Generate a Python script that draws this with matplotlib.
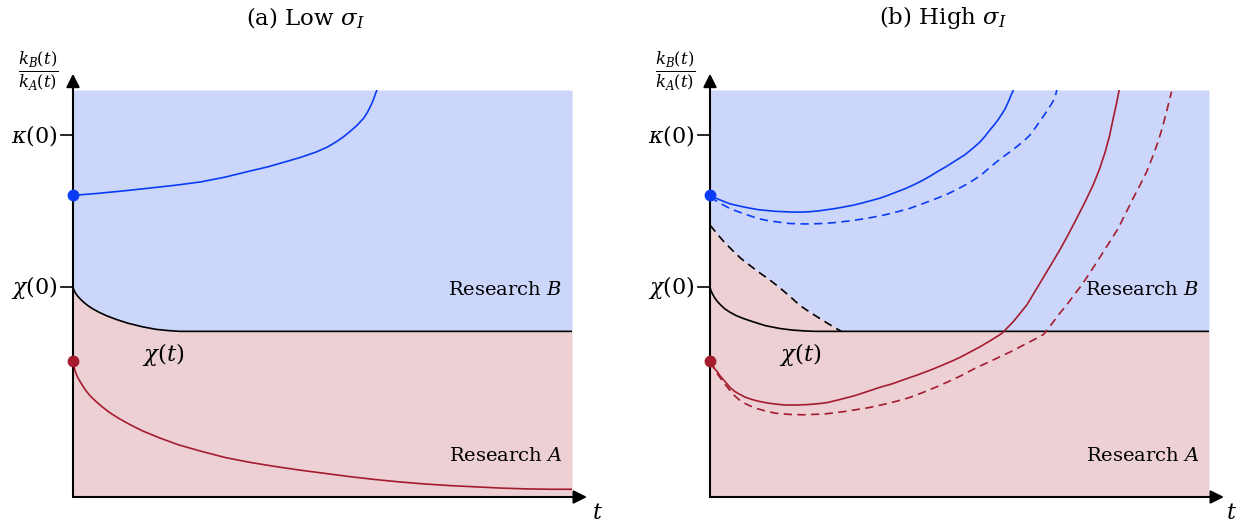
import matplotlib
matplotlib.use('Agg')
import matplotlib.pyplot as plt

plt.rcParams['font.family'] = 'DejaVu Serif'
plt.rcParams['mathtext.fontset'] = 'dejavuserif'

# colours
BLUE_FILL = '#ccd6fb'
RED_FILL = '#ecd0d4'
BLUE = '#0b3cf5'
RED = '#a51c2e'

# levels on the vertical axis (scaled so the shaded box is [0, 1])
KAPPA0 = 0.889
CHI0 = 0.515
CHI_BAR = 0.407
BLUE_START = 0.741
RED_START = 0.333

# --- panel (a): low sigma_I ---
chi_a_t = [0, .002, .005, .009, .015, .022, .030, .040, .052, .066, .085, .110, .140, .166, .190, .214, 1.0]
chi_a_y = [.515, .508, .501, .494, .486, .478, .470, .462, .454, .446, .437, .427, .418, .412, .409, .407, .407]

blue_a_t = [0, .05, .10, .154, .205, .255, .305, .355, .39, .421, .455, .488, .51, .528, .542, .555, .569, .582,
            .590, .597, .602, .606, .609]
blue_a_y = [.741, .746, .752, .759, .766, .774, .786, .801, .811, .822, .834, .848, .860, .873, .885, .898, .913, .930,
            .945, .962, .976, .990, 1.0]

red_a_t = [0, .002, .005, .009, .014, .020, .026, .034, .044, .058, .074, .092, .114, .140, .174, .212, .255, .305,
           .355, .405, .455, .505, .555, .605, .655, .705, .756, .806, .856, .906, .956, 1.0]
red_a_y = [.333, .320, .307, .295, .284, .272, .261, .249, .237, .222, .207, .193, .178, .162, .145, .128, .113, .097,
           .085, .075, .066, .058, .050, .043, .037, .032, .028, .025, .022, .020, .019, .019]

# --- panel (b): high sigma_I ---
chi_b_t = [0, .002, .005, .009, .015, .022, .030, .040, .052, .066, .085, .111, .140, .166, .190, .211, 1.0]
chi_b_y = [.515, .507, .499, .490, .480, .471, .462, .454, .446, .439, .431, .421, .414, .410, .408, .407, .407]

# dashed threshold, which is the edge between the shaded regions
chi_hi_t = [0, .014, .028, .045, .062, .080, .097, .118, .138, .160, .180, .200, .221, .242, .263]
chi_hi_y = [.668, .647, .627, .606, .586, .569, .553, .535, .516, .493, .471, .454, .438, .422, .407]

blue_b_t = [0, .010, .020, .030, .041, .055, .070, .083, .097, .113, .130, .148, .166, .183, .200, .218, .235, .252,
            .270, .287, .304, .322, .340, .356, .373, .392, .410, .426, .442, .458, .475, .493, .511, .526, .540, .551,
            .561, .570, .578, .585, .591, .596, .600, .604, .608]
blue_b_y = [.741, .735, .730, .725, .720, .716, .712, .709, .706, .704, .702, .701, .700, .700, .701, .703, .706, .709,
            .713, .717, .722, .728, .734, .741, .749, .758, .768, .778, .789, .801, .813, .827, .841, .856, .871, .886,
            .902, .915, .928, .941, .953, .966, .977, .989, 1.0]

blue_b_dash_t = [0, .020, .041, .070, .097, .120, .140, .160, .180, .203, .225, .248, .270, .295, .320, .346, .373,
                 .400, .425, .451, .477, .497, .515, .531, .546, .561, .581, .600, .615, .628, .641, .653, .665, .675,
                 .684, .691, .695]
blue_b_dash_y = [.737, .722, .708, .695, .684, .678, .675, .672, .671, .671, .672, .674, .677, .681, .686, .692, .700,
                 .709, .720, .732, .745, .757, .769, .781, .794, .810, .830, .847, .861, .874, .889, .909, .930, .948,
                 .965, .980, 1.0]

red_b_t = [0, .003, .007, .010, .014, .020, .027, .034, .041, .050, .060, .071, .083, .098, .115, .133, .152, .173,
           .195, .215, .235, .262, .290, .315, .339, .365, .390, .416, .442, .464, .485, .501, .521, .541, .563, .585,
           .608, .635, .661, .685, .701, .718, .735, .752, .768, .781, .792, .801, .808, .814, .820]
red_b_y = [.333, .326, .320, .314, .309, .298, .288, .278, .268, .259, .252, .245, .240, .235, .231, .228, .226, .226,
           .227, .229, .232, .240, .249, .259, .269, .278, .289, .300, .312, .323, .334, .343, .356, .369, .385, .402,
           .431, .472, .525, .574, .607, .645, .685, .726, .767, .807, .848, .889, .930, .963, 1.0]

red_b_dash_t = [0, .005, .010, .015, .021, .030, .040, .050, .062, .078, .095, .112, .131, .158, .187, .208, .230, .250,
                .270, .295, .320, .346, .373, .399, .425, .451, .477, .503, .531, .568, .601, .631, .650, .668, .678,
                .698, .715, .730, .745, .764, .782, .800, .818, .833, .848, .862, .875, .887, .898, .907, .915, .920,
                .925]
red_b_dash_y = [.333, .322, .312, .302, .292, .277, .262, .248, .235, .225, .217, .211, .206, .203, .202, .203, .204,
                .207, .210, .215, .220, .227, .235, .244, .256, .269, .283, .298, .316, .337, .356, .375, .387, .399,
                .414, .447, .472, .497, .521, .556, .590, .625, .660, .697, .734, .767, .799, .836, .873, .910, .947,
                .972, .996]

fig = plt.figure(figsize=(12.44, 5.25), dpi=100)
W, H = 1244, 525
DASH = (0, (5, 3.2))


def make_axes(x0):
    # shaded box is 499 x 407 px, its top edge at 90 px from the top
    return fig.add_axes([x0 / W, (H - 497) / H, 499 / W, 407 / H])


def frame(ax, title, t_label_x):
    ax.set_xlim(0, 1)
    ax.set_ylim(0, 1)
    ax.axis('off')
    ax.annotate('', xy=(0, 1.04), xytext=(0, 0), annotation_clip=False,
                arrowprops=dict(arrowstyle='-|>', lw=1.5, color='black', mutation_scale=20,
                                shrinkA=0, shrinkB=0))
    ax.annotate('', xy=(1.03, 0), xytext=(0, 0), annotation_clip=False,
                arrowprops=dict(arrowstyle='-|>', lw=1.5, color='black', mutation_scale=20,
                                shrinkA=0, shrinkB=0))
    for lev, lab in [(KAPPA0, r'$\kappa(0)$'), (CHI0, r'$\chi(0)$')]:
        ax.plot([-0.024, 0], [lev, lev], color='black', lw=1.2, clip_on=False)
        ax.text(-0.031, lev, lab, ha='right', va='center', fontsize=16)
    ax.text(-0.07, 1.045, r'$\frac{k_B(t)}{k_A(t)}$', ha='center', va='center', fontsize=17)
    ax.text(t_label_x, -0.04, r'$t$', ha='center', va='center', fontsize=16)
    ax.text(0.466, 1.177, title, ha='center', va='center', fontsize=16.5)
    ax.text(0.98, 0.509, r'Research $B$', ha='right', va='center', fontsize=14)
    ax.text(0.98, 0.100, r'Research $A$', ha='right', va='center', fontsize=14)


# panel (a)
ax1 = make_axes(73)
ax1.fill_between(chi_a_t, chi_a_y, 1, color=BLUE_FILL, lw=0)
ax1.fill_between(chi_a_t, 0, chi_a_y, color=RED_FILL, lw=0)
ax1.plot(chi_a_t, chi_a_y, color='black', lw=1.2)
ax1.plot(blue_a_t, blue_a_y, color=BLUE, lw=1.2)
ax1.plot(red_a_t, red_a_y, color=RED, lw=1.2)
ax1.plot(0, BLUE_START, 'o', color=BLUE, ms=7.5, clip_on=False, zorder=5)
ax1.plot(0, RED_START, 'o', color=RED, ms=7.5, clip_on=False, zorder=5)
ax1.text(0.18, 0.350, r'$\chi(t)$', ha='center', va='center', fontsize=16.5)
frame(ax1, r'(a) Low $\sigma_I$', 1.052)

# panel (b)
edge_t = chi_hi_t + [1.0]
edge_y = chi_hi_y + [CHI_BAR]
ax2 = make_axes(710)
ax2.fill_between(edge_t, edge_y, 1, color=BLUE_FILL, lw=0)
ax2.fill_between(edge_t, 0, edge_y, color=RED_FILL, lw=0)
ax2.plot(chi_hi_t, chi_hi_y, color='black', lw=1.2, linestyle=DASH)
ax2.plot(chi_b_t, chi_b_y, color='black', lw=1.2)
ax2.plot(blue_b_t, blue_b_y, color=BLUE, lw=1.2)
ax2.plot(blue_b_dash_t, blue_b_dash_y, color=BLUE, lw=1.2, linestyle=DASH)
ax2.plot(red_b_t, red_b_y, color=RED, lw=1.2)
ax2.plot(red_b_dash_t, red_b_dash_y, color=RED, lw=1.2, linestyle=DASH)
ax2.plot(0, BLUE_START, 'o', color=BLUE, ms=7.5, clip_on=False, zorder=5)
ax2.plot(0, RED_START, 'o', color=RED, ms=7.5, clip_on=False, zorder=5)
ax2.text(0.18, 0.350, r'$\chi(t)$', ha='center', va='center', fontsize=16.5)
frame(ax2, r'(b) High $\sigma_I$', 1.046)

fig.savefig('out.png', dpi=100)
